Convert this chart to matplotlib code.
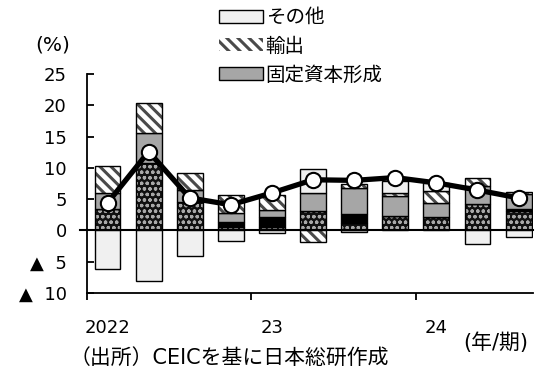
import matplotlib
matplotlib.use("Agg")
import matplotlib.pyplot as plt
from matplotlib.patches import Patch
import numpy as np

plt.rcParams['font.family'] = ['DejaVu Sans', 'Noto Sans CJK JP']

# 2022Q1 - 2024Q3, contributions to real GDP growth (%)
quarters = ["22Q1", "22Q2", "22Q3", "22Q4", "23Q1", "23Q2", "23Q3", "23Q4",
            "24Q1", "24Q2", "24Q3"]
consumption = [3.5, 10.7, 4.6, 0.5, 0.5, 3.1, 1.2, 2.25, 2.2, 4.15, 3.1]
inventory = [0.0, 0.0, 0.0, 0.8, 1.6, 0.0, 1.35, 0.0, 0.0, 0.0, 0.3]
fixed_capital = [2.5, 4.9, 1.8, 1.45, 1.1, 2.95, 4.3, 3.2, 2.15, 2.95, 2.4]
exports = [4.3, 4.7, 2.8, 2.85, 2.5, -1.9, 0.65, 0.55, 1.9, 1.35, 0.3]
other = [-6.2, -8.0, -4.1, -1.7, -0.4, 3.8, -0.3, 1.9, 1.3, -2.1, -1.1]
gdp = [4.4, 12.6, 5.2, 4.1, 6.0, 8.1, 8.0, 8.45, 7.6, 6.45, 5.2]

year_pos = [0, 4, 8]
year_labels = ["2022", "23", "24"]
yticks = [-10, -5, 0, 5, 10, 15, 20, 25]
ytick_labels = ["▲  10", "▲  5", "0", "5", "10", "15", "20", "25"]

fig = plt.figure(figsize=(5.37, 3.71), dpi=100)
ax = fig.add_axes([0.162, 0.2102, 0.8305, 0.5903])

x = np.arange(len(quarters))
w = 0.63

# (values, face, hatch, hatch colour, hatch width)
series = [
    (consumption, "#111111", "ooo", "#a8a8a8", 0.9),
    (inventory, "black", None, None, None),
    (fixed_capital, "#a6a6a6", None, None, None),
    (exports, "white", "\\\\\\", "#4a4a4a", 2.2),
    (other, "#f0f0f0", None, None, None),
]

pos = np.zeros(len(x))
neg = np.zeros(len(x))
for vals, face, hatch, hcol, hlw in series:
    v = np.array(vals)
    bottom = np.where(v >= 0, pos, neg)
    if hatch:
        with plt.rc_context({"hatch.linewidth": hlw}):
            ax.bar(x, v, w, bottom=bottom, facecolor=face, hatch=hatch,
                   edgecolor=hcol, linewidth=0, zorder=2)
        ax.bar(x, v, w, bottom=bottom, fill=False, edgecolor="black",
               linewidth=1, zorder=2)
    else:
        ax.bar(x, v, w, bottom=bottom, color=face, edgecolor="black",
               linewidth=1, zorder=2)
    pos = pos + np.where(v > 0, v, 0)
    neg = neg + np.where(v < 0, v, 0)

ax.axhline(0, xmin=-0.015, xmax=1, color="black", lw=1.5, clip_on=False,
           zorder=3)
ax.plot(x, gdp, color="black", lw=3.8, marker="o", ms=11,
        markerfacecolor="white", markeredgecolor="black", mew=1.5, zorder=4)

ax.set_xlim(-0.5, 10.35)
ax.set_ylim(-10, 25)

for s in ["top", "right"]:
    ax.spines[s].set_visible(False)
for s in ["left", "bottom"]:
    ax.spines[s].set_linewidth(1.3)

ax.set_yticks(yticks)
ax.set_yticklabels(ytick_labels)
ax.tick_params(axis="y", direction="in", length=5, width=1.3, pad=14.5,
               labelsize=13)

ax.set_xticks([-0.5, 3.5, 7.5])
ax.set_xticklabels([])
ax.set_xticks(year_pos, minor=True)
ax.set_xticklabels(year_labels, minor=True)
ax.tick_params(axis="x", which="major", direction="out", length=5, width=1.3)
ax.tick_params(axis="x", which="minor", length=0, pad=19, labelsize=13)

fig.text(53 / 537, 1 - 45 / 371, "(%)", ha="center", va="center",
         fontsize=14.5)
fig.text(496 / 537, 1 - 343 / 371, "(年/期)", ha="center", va="center",
         fontsize=15)
fig.text(229 / 537, 1 - 358 / 371, "（出所）CEICを基に日本総研作成",
         ha="center", va="center", fontsize=15)

handles = [
    Patch(facecolor="#f0f0f0", edgecolor="black", linewidth=1),
    Patch(facecolor="white", edgecolor="#4a4a4a", hatch="\\\\\\", linewidth=0),
    Patch(facecolor="#a6a6a6", edgecolor="black", linewidth=1),
]
with plt.rc_context({"hatch.linewidth": 2.2}):
    fig.legend(handles, ["その他", "輸出", "固定資本形成"], loc="upper left",
               bbox_to_anchor=(218 / 537, 1 - 7 / 371), frameon=False,
               fontsize=14, handlelength=2.25, handleheight=0.65,
               handletextpad=0.15, labelspacing=0.5, borderpad=0.05,
               borderaxespad=0)

fig.savefig("out.png", dpi=100)
